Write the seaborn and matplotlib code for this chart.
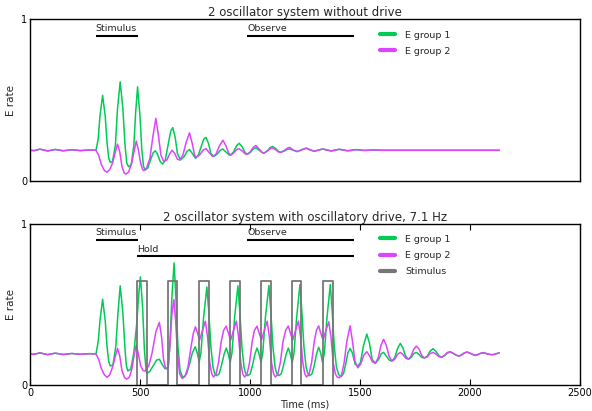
import matplotlib
matplotlib.use("Agg")
import matplotlib.pyplot as plt
from matplotlib.lines import Line2D
import seaborn as sns
import pandas as pd

# ---------------- data, (time ms, E rate) ----------------
pre_stim = [(0, 0.19), (20, 0.188), (45, 0.197), (80, 0.186), (115, 0.195), (150, 0.187),
            (190, 0.193), (230, 0.188), (270, 0.192)]

top_tail = [(1198, 0.19), (1215, 0.182), (1235, 0.193), (1255, 0.203), (1273, 0.193),
            (1292, 0.184), (1311, 0.191), (1330, 0.198), (1349, 0.192), (1368, 0.186),
            (1387, 0.191), (1405, 0.196), (1424, 0.192), (1443, 0.187), (1462, 0.19),
            (1480, 0.194), (1500, 0.192), (1518, 0.189), (1537, 0.19), (1556, 0.192),
            (1600, 0.19), (2133, 0.19)]

top_green = [(300, 0.19), (310, 0.26), (318, 0.40), (330, 0.53), (342, 0.40), (350, 0.24),
             (358, 0.14), (365, 0.115), (375, 0.12), (388, 0.22), (398, 0.45), (410, 0.613),
             (422, 0.45), (432, 0.22), (440, 0.11), (448, 0.088), (460, 0.10), (472, 0.22),
             (480, 0.42), (489, 0.582), (500, 0.40), (508, 0.20), (516, 0.09), (524, 0.068),
             (535, 0.08), (548, 0.13), (560, 0.175), (570, 0.187), (580, 0.165), (592, 0.12),
             (603, 0.105), (615, 0.13), (630, 0.24), (640, 0.31), (649, 0.33), (660, 0.27),
             (670, 0.17), (684, 0.13), (700, 0.15), (715, 0.185), (725, 0.195), (738, 0.17),
             (752, 0.14), (765, 0.16), (780, 0.22), (790, 0.26), (800, 0.27), (812, 0.23),
             (822, 0.17), (835, 0.152), (850, 0.165), (865, 0.19), (876, 0.198), (890, 0.18),
             (905, 0.162), (912, 0.16), (925, 0.18), (940, 0.22), (951, 0.233), (965, 0.21),
             (978, 0.175), (988, 0.167), (1000, 0.175), (1015, 0.198), (1027, 0.206),
             (1040, 0.192), (1055, 0.176), (1064, 0.173), (1078, 0.185), (1092, 0.207),
             (1103, 0.214), (1117, 0.2), (1130, 0.182), (1140, 0.178), (1155, 0.185),
             (1170, 0.196), (1180, 0.198)]

top_magenta = [(300, 0.19), (312, 0.16), (325, 0.10), (338, 0.065), (350, 0.054), (362, 0.07),
               (375, 0.11), (388, 0.18), (398, 0.228), (408, 0.18), (418, 0.09), (428, 0.05),
               (436, 0.043), (448, 0.055), (462, 0.11), (474, 0.19), (483, 0.247), (493, 0.19),
               (503, 0.11), (512, 0.07), (518, 0.065), (530, 0.08), (545, 0.14), (558, 0.27),
               (572, 0.387), (584, 0.28), (595, 0.16), (608, 0.12), (622, 0.13), (636, 0.17),
               (646, 0.19), (658, 0.17), (670, 0.135), (680, 0.13), (695, 0.16), (710, 0.24),
               (725, 0.298), (738, 0.23), (748, 0.16), (755, 0.145), (770, 0.16), (788, 0.192),
               (800, 0.20), (815, 0.175), (830, 0.152), (845, 0.165), (862, 0.22), (877, 0.252),
               (890, 0.22), (902, 0.175), (912, 0.16), (925, 0.172), (940, 0.195), (950, 0.20),
               (965, 0.185), (978, 0.168), (988, 0.165), (1000, 0.178), (1015, 0.208),
               (1027, 0.22), (1040, 0.2), (1055, 0.177), (1064, 0.172), (1078, 0.185),
               (1092, 0.2), (1102, 0.205), (1117, 0.193), (1130, 0.18), (1140, 0.177),
               (1155, 0.188), (1170, 0.203), (1180, 0.208)]

bot_green = [(300, 0.193), (310, 0.27), (318, 0.40), (330, 0.534), (342, 0.40), (350, 0.24),
             (358, 0.145), (365, 0.118), (377, 0.125), (390, 0.24), (400, 0.45), (410, 0.617),
             (422, 0.45), (432, 0.22), (438, 0.12), (445, 0.087), (458, 0.10), (472, 0.20),
             (485, 0.38), (494, 0.56), (502, 0.673), (512, 0.48), (520, 0.22), (527, 0.10),
             (532, 0.073), (545, 0.085), (560, 0.12), (575, 0.155), (588, 0.16), (600, 0.13),
             (612, 0.104), (620, 0.10), (628, 0.105), (636, 0.25), (645, 0.55), (655, 0.76),
             (663, 0.55), (672, 0.25), (682, 0.09), (692, 0.055), (700, 0.05), (712, 0.07),
             (725, 0.13), (738, 0.2), (751, 0.238), (760, 0.2), (769, 0.145), (777, 0.2),
             (789, 0.42), (804, 0.61), (813, 0.45), (822, 0.24), (832, 0.11), (840, 0.07),
             (849, 0.058), (860, 0.07), (870, 0.12), (882, 0.19), (892, 0.23), (900, 0.2),
             (910, 0.141), (918, 0.2), (930, 0.42), (945, 0.617), (954, 0.45), (963, 0.24),
             (973, 0.11), (981, 0.07), (990, 0.058), (1001, 0.07), (1011, 0.12), (1022, 0.19),
             (1032, 0.23), (1040, 0.2), (1050, 0.14), (1058, 0.2), (1070, 0.42), (1086, 0.62),
             (1095, 0.45), (1104, 0.24), (1114, 0.11), (1122, 0.07), (1131, 0.058),
             (1142, 0.07), (1152, 0.12), (1164, 0.19), (1174, 0.23), (1182, 0.2), (1192, 0.14),
             (1200, 0.2), (1212, 0.42), (1227, 0.625), (1236, 0.45), (1245, 0.24), (1255, 0.11),
             (1263, 0.07), (1271, 0.058), (1282, 0.07), (1292, 0.12), (1302, 0.19),
             (1312, 0.235), (1321, 0.2), (1330, 0.14), (1338, 0.2), (1350, 0.42), (1365, 0.625),
             (1374, 0.45), (1383, 0.24), (1393, 0.11), (1403, 0.065), (1414, 0.052),
             (1425, 0.07), (1435, 0.13), (1445, 0.2), (1455, 0.228), (1465, 0.2), (1478, 0.13),
             (1490, 0.118), (1502, 0.14), (1515, 0.24), (1531, 0.317), (1543, 0.26),
             (1555, 0.16), (1570, 0.135), (1585, 0.16), (1597, 0.195), (1607, 0.203),
             (1620, 0.18), (1633, 0.155), (1645, 0.149), (1658, 0.17), (1670, 0.225),
             (1683, 0.259), (1695, 0.23), (1707, 0.18), (1720, 0.16), (1733, 0.172),
             (1745, 0.196), (1756, 0.203), (1768, 0.19), (1780, 0.172), (1793, 0.168),
             (1806, 0.18), (1818, 0.21), (1832, 0.226), (1845, 0.21), (1857, 0.185),
             (1870, 0.172), (1884, 0.182), (1898, 0.2), (1911, 0.205), (1925, 0.196),
             (1937, 0.186), (1950, 0.18), (1962, 0.188), (1975, 0.2), (1987, 0.205),
             (2000, 0.198), (2012, 0.19), (2025, 0.184), (2037, 0.19), (2050, 0.198),
             (2062, 0.2), (2080, 0.193), (2100, 0.188), (2115, 0.193), (2133, 0.2)]

bot_magenta = [(300, 0.193), (312, 0.16), (325, 0.10), (338, 0.063), (350, 0.048), (362, 0.062),
               (375, 0.11), (388, 0.18), (398, 0.228), (408, 0.18), (418, 0.09), (430, 0.045),
               (441, 0.037), (452, 0.05), (463, 0.1), (474, 0.19), (483, 0.248), (493, 0.19),
               (503, 0.12), (514, 0.09), (524, 0.087), (540, 0.12), (555, 0.2), (572, 0.33),
               (588, 0.39), (598, 0.3), (607, 0.16), (616, 0.104), (628, 0.11), (636, 0.25),
               (645, 0.44), (654, 0.532), (662, 0.4), (670, 0.2), (680, 0.07), (692, 0.04),
               (705, 0.055), (718, 0.11), (730, 0.22), (742, 0.32), (752, 0.362), (760, 0.33),
               (771, 0.28), (784, 0.34), (797, 0.397), (807, 0.3), (817, 0.14), (826, 0.07),
               (834, 0.05), (845, 0.065), (857, 0.14), (869, 0.27), (880, 0.34), (892, 0.366),
               (900, 0.33), (912, 0.28), (925, 0.34), (938, 0.397), (948, 0.3), (958, 0.14),
               (967, 0.07), (975, 0.05), (986, 0.065), (998, 0.14), (1010, 0.27), (1020, 0.34),
               (1032, 0.366), (1040, 0.33), (1052, 0.28), (1065, 0.34), (1078, 0.397),
               (1088, 0.3), (1098, 0.14), (1107, 0.07), (1115, 0.05), (1126, 0.065),
               (1138, 0.14), (1150, 0.27), (1162, 0.34), (1174, 0.367), (1182, 0.33),
               (1194, 0.28), (1207, 0.34), (1220, 0.397), (1230, 0.3), (1240, 0.14),
               (1249, 0.07), (1257, 0.05), (1268, 0.065), (1280, 0.14), (1292, 0.27),
               (1302, 0.34), (1312, 0.368), (1320, 0.33), (1332, 0.28), (1345, 0.34),
               (1358, 0.393), (1368, 0.3), (1378, 0.14), (1388, 0.07), (1396, 0.05),
               (1405, 0.045), (1416, 0.06), (1428, 0.14), (1440, 0.27), (1455, 0.368),
               (1465, 0.28), (1477, 0.15), (1490, 0.107), (1503, 0.13), (1517, 0.185),
               (1531, 0.207), (1544, 0.18), (1556, 0.145), (1570, 0.135), (1583, 0.17),
               (1595, 0.245), (1607, 0.284), (1619, 0.25), (1632, 0.18), (1645, 0.149),
               (1658, 0.16), (1670, 0.19), (1683, 0.203), (1695, 0.19), (1707, 0.168),
               (1720, 0.16), (1732, 0.18), (1744, 0.222), (1756, 0.242), (1768, 0.225),
               (1780, 0.185), (1793, 0.168), (1806, 0.175), (1818, 0.195), (1832, 0.203),
               (1845, 0.193), (1857, 0.178), (1870, 0.172), (1884, 0.185), (1898, 0.203),
               (1911, 0.207), (1925, 0.196), (1937, 0.186), (1950, 0.18), (1962, 0.188),
               (1975, 0.2), (1987, 0.205), (2000, 0.198), (2012, 0.19), (2025, 0.184),
               (2037, 0.19), (2050, 0.198), (2062, 0.202), (2080, 0.193), (2100, 0.188),
               (2115, 0.193), (2133, 0.2)]

stim_on = [488, 628, 769, 910, 1050, 1192, 1330]
stim_off = [532, 670, 815, 955, 1094, 1233, 1376]
stim_level = 0.65

titles = ["2 oscillator system without drive",
          "2 oscillator system with oscillatory drive, 7.1 Hz"]
labels = ["E group 1", "E group 2", "Stimulus"]
xticks = [0, 500, 1000, 1500, 2000, 2500]

GREEN = "#00CC55"
MAGENTA = "#DD44FF"
GRAY = "#777777"


def frame(points):
    return pd.DataFrame(points, columns=["t", "v"])


top_g = frame(pre_stim + top_green + top_tail)
top_m = frame(pre_stim + top_magenta + top_tail)
bot_g = frame([(t, v + 0.003) for t, v in pre_stim] + bot_green)
bot_m = frame([(t, v + 0.003) for t, v in pre_stim] + bot_magenta)
stim_pts = []
for a, b in zip(stim_on, stim_off):
    stim_pts += [(a, 0), (a, stim_level), (b, stim_level), (b, 0)]
stim = frame(stim_pts)

# ---------------- style ----------------
sns.set_theme(style="white", rc={
    "xtick.direction": "in", "ytick.direction": "in",
    "xtick.top": True, "ytick.right": True,
    "xtick.bottom": True, "ytick.left": True,
    "axes.edgecolor": "black", "axes.linewidth": 1.0,
    "xtick.major.size": 4, "ytick.major.size": 4,
    "xtick.color": "black", "ytick.color": "black",
})
plt.rcParams["font.family"] = ["DejaVu Sans"]

fig = plt.figure(figsize=(5.92, 4.11), dpi=100)
W, H = 592, 411
ax1 = fig.add_axes([30 / W, 1 - 181 / H, 550 / W, (181 - 19.3) / H])
ax2 = fig.add_axes([30 / W, 1 - 385 / H, 550 / W, (385 - 224.3) / H])

lw = 1.1
kw = dict(x="t", y="v", lw=lw, estimator=None, sort=False)
sns.lineplot(data=top_g, ax=ax1, color=GREEN, **kw)
sns.lineplot(data=top_m, ax=ax1, color=MAGENTA, **kw)
sns.lineplot(data=bot_g, ax=ax2, color=GREEN, **kw)
sns.lineplot(data=bot_m, ax=ax2, color=MAGENTA, **kw)
sns.lineplot(data=stim, x="t", y="v", ax=ax2, color=GRAY, lw=1.3, estimator=None, sort=False)

for ax, title in zip([ax1, ax2], titles):
    ax.set_xlim(0, 2500)
    ax.set_ylim(0, 1)
    ax.set_yticks([0, 1])
    ax.set_yticklabels(["0", "1"], fontsize=7)
    ax.set_ylabel("E rate", fontsize=7.5, labelpad=4)
    ax.set_title(title, fontsize=8.5, pad=2.5)
    ax.tick_params(axis="y", pad=2, length=0)

ax1.set_xticks([])
ax1.set_xlabel("")
ax2.set_xticks(xticks)
ax2.set_xticklabels([str(x) for x in xticks], fontsize=7)
ax2.tick_params(axis="x", pad=2.5, length=4, width=0.8)
ax2.set_xlabel("Time (ms)", fontsize=7, labelpad=1)


def bar(ax, x0, x1, y, text):
    ax.plot([x0, x1], [y, y], color="black", lw=1.5, solid_capstyle="butt")
    ax.text(x0, y + 0.028, text, fontsize=6.8, ha="left", va="baseline")


bar(ax1, 298, 490, 0.897, "Stimulus")
bar(ax1, 988, 1474, 0.897, "Observe")
bar(ax2, 298, 490, 0.905, "Stimulus")
bar(ax2, 988, 1474, 0.905, "Observe")
bar(ax2, 486, 1474, 0.801, "Hold")

hs = [Line2D([], [], color=GREEN, lw=3),
      Line2D([], [], color=MAGENTA, lw=3),
      Line2D([], [], color=GRAY, lw=3)]
for ax, n, ytop in [(ax1, 2, 0.93), (ax2, 3, 0.935)]:
    ax.legend(hs[:n], labels[:n], loc="upper left", bbox_to_anchor=(0.636, ytop),
              frameon=False, fontsize=6.8, handlelength=1.6, handletextpad=1.1,
              labelspacing=0.75, borderpad=0, borderaxespad=0)

fig.savefig("out.png", dpi=100)
